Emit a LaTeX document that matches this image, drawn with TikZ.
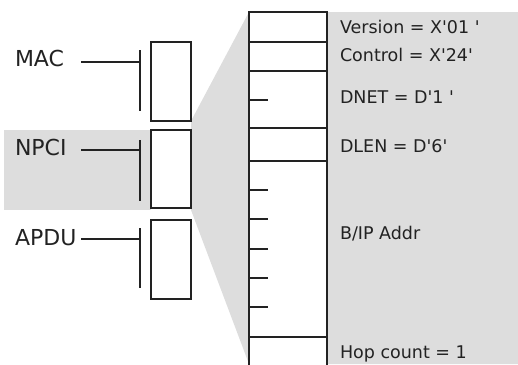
\documentclass[tikz,border=0pt]{standalone}
\usepackage{fontspec}
\setmainfont{DejaVu Sans}[Ligatures=TeXOff]
\usetikzlibrary{calc}
\definecolor{bggray}{RGB}{221,221,221}
\definecolor{ink}{RGB}{34,34,34}
\begin{document}
\begin{tikzpicture}[x=1pt,y=-1pt,
  line width=2pt, draw=ink,
  pdubox/.style={draw=ink, fill=white, line width=2pt, minimum width=40pt, inner sep=0pt, outer sep=0pt},
  field/.style={draw=ink, fill=white, line width=2pt, minimum width=78pt, inner sep=0pt, outer sep=0pt},
  leftlab/.style={font=\fontsize{22}{24}\selectfont, text=ink, anchor=west, inner sep=0pt, text height=16pt, text depth=0pt},
  rightlab/.style={font=\fontsize{17.5}{20}\selectfont, text=ink, anchor=west, inner sep=0pt, text height=12.8pt, text depth=0pt},
  fieldtick/.style={draw=ink, line width=2pt}]
\useasboundingbox (0,0) rectangle (518,364);
\begin{scope}
\clip (0,0) rectangle (518,364);
% gray areas
\fill[bggray] (4,130) rectangle (151,210);
\fill[bggray] (191,121) -- (249,12) -- (518,12) -- (518,364) -- (249,364) -- (191,210) -- cycle;
% PDU boxes
\node[pdubox, minimum height=79pt] (mac) at (171,81.5) {};
\node[pdubox, minimum height=78pt] (npci) at (171,169) {};
\node[pdubox, minimum height=79pt] (apdu) at (171,259.5) {};
% fields
\node[field, minimum height=30pt] (f1) at (288,27) {};
\node[field, minimum height=29pt, anchor=north] (f2) at (f1.south) {};
\node[field, minimum height=57pt, anchor=north] (f3) at (f2.south) {};
\node[field, minimum height=33pt, anchor=north] (f4) at (f3.south) {};
\node[field, minimum height=176pt, anchor=north] (f5) at (f4.south) {};
\node[field, minimum height=40pt, anchor=north] (f6) at (f5.south) {};
% ticks
\draw[fieldtick] ($(f3.north west)+(0,29)$) -- ++(19,0);
\foreach \k in {29,58,88,117,146} {
  \draw[fieldtick] ($(f5.north west)+(0,\k)$) -- ++(19,0);
}
\end{scope}
% labels left
\node[leftlab] (lmac) at (14,58) {MAC};
\node[leftlab] (lnpci) at (14,147) {NPCI};
\node[leftlab] (lapdu) at (14,237) {APDU};
% brackets
\coordinate (bm) at (140,62);
\coordinate (bn) at (140,150);
\coordinate (ba) at (140,239);
\draw (81,62) -- (bm);
\draw (140,50) -- (140,111);
\draw (81,150) -- (bn);
\draw (140,140) -- (140,201);
\draw (81,239) -- (ba);
\draw (140,228) -- (140,288);
% right labels
\node[rightlab] (tver) at (339,27) {Version = X'01 '};
\node[rightlab] (tctl) at (339,55) {Control = X'24'};
\node[rightlab] (tdnet) at (339,97) {DNET = D'1 '};
\node[rightlab] (tdlen) at (339,146) {DLEN = D'6'};
\node[rightlab] (tbip) at (339,233) {B/IP Addr};
\node[rightlab] (thop) at (339,352) {Hop count = 1};
\end{tikzpicture}
\end{document}
